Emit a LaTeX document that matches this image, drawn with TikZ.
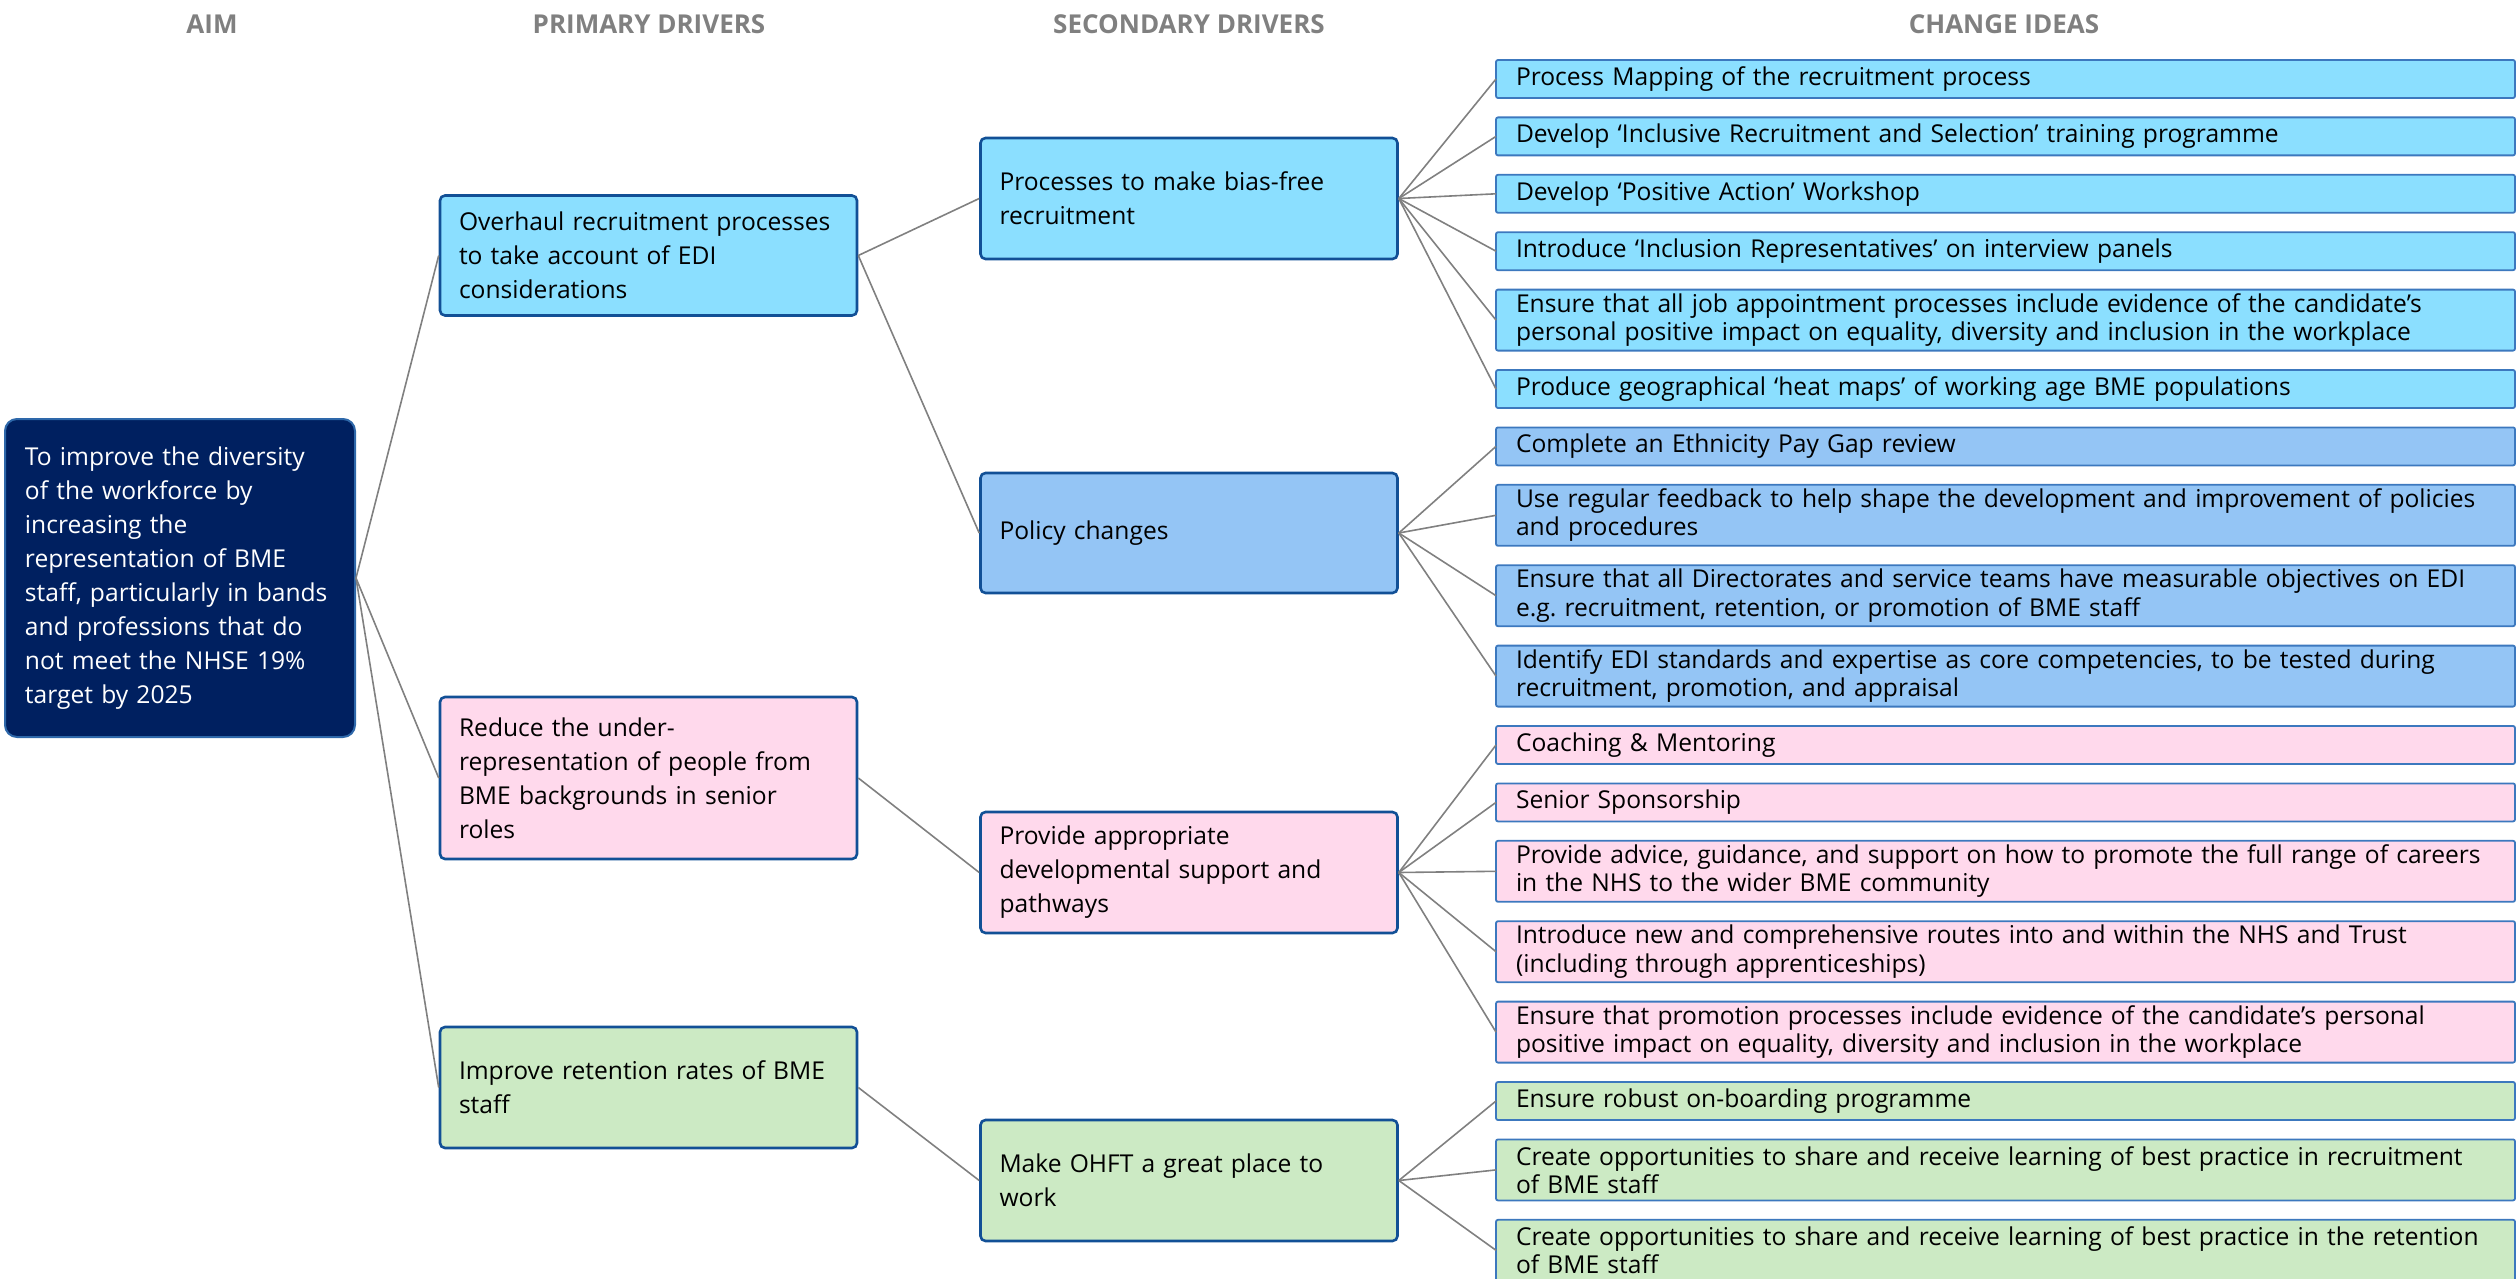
\documentclass[tikz,border=0pt]{standalone}
\usepackage{fontspec}
\setmainfont{Open Sans}
\usepackage{tikz}
\usetikzlibrary{positioning}
\frenchspacing
\definecolor{ddnavy}{RGB}{0,32,96}
\definecolor{ddnavyline}{RGB}{46,104,170}
\definecolor{ddcyan}{RGB}{139,223,255}
\definecolor{ddblue}{RGB}{148,197,245}
\definecolor{ddpink}{RGB}{255,217,236}
\definecolor{ddgreen}{RGB}{204,234,196}
\definecolor{ddedge}{RGB}{18,80,150}
\definecolor{ddideaedge}{RGB}{60,120,190}
\definecolor{ddgrey}{RGB}{128,128,128}
\tikzstyle{link} = [line width=0.8pt,color=ddgrey]
\tikzstyle{heading} = [font=\fontsize{13}{15}\selectfont\bfseries, text=ddgrey]
\tikzstyle{aimbox} = [rectangle, rounded corners=6pt, minimum width=175pt, minimum height=159pt, text width=155pt, inner xsep=10pt, align=left, draw=ddnavyline, fill=ddnavy, text=white, line width=1pt, font=\fontsize{12.3}{17}\selectfont]
\tikzstyle{driverbox} = [rectangle, rounded corners=2.5pt, minimum width=208.5pt, minimum height=60.5pt, text width=189.5pt, inner xsep=9.5pt, align=left, draw=ddedge, line width=1.3pt, font=\fontsize{12.3}{17}\selectfont]
\tikzstyle{ideabox} = [rectangle, rounded corners=1pt, minimum width=509.5pt, minimum height=19pt, text width=489.5pt, inner xsep=10pt, inner ysep=1pt, outer sep=0pt, align=left, draw=ddideaedge, line width=0.9pt, font=\fontsize{12.3}{14.2}\selectfont]
\tikzstyle{ideatwo} = [ideabox, minimum height=30.5pt]

\begin{document}
\begin{tikzpicture}[x=0.5pt, y=-0.5pt, node distance=9.7pt]
\useasboundingbox (0,0) rectangle (2517,1279);

% Headings
\node[heading] (haim) at (212,24) {AIM};
\node[heading] (hprim) at (649,24) {PRIMARY DRIVERS};
\node[heading] (hsec) at (1189,24) {SECONDARY DRIVERS};
\node[heading] (hidea) at (2004,24) {CHANGE IDEAS};

% Aim
\node[aimbox] (aim) at (180,578) {To improve the diversity\\
of the workforce by\\
increasing the\\
representation of BME\\
staff, particularly in bands\\
and professions that do\\
not meet the NHSE 19\%\\
target by 2025};

% Primary drivers
\node[driverbox, fill=ddcyan, minimum height=60pt] (prim1) at (648.5,255.5) {Overhaul recruitment processes\\
to take account of EDI\\
considerations};
\node[driverbox, fill=ddpink, minimum height=81pt] (prim2) at (648.5,778) {Reduce the under-\\
representation of people from\\
BME backgrounds in senior\\
roles};
\node[driverbox, fill=ddgreen] (prim3) at (648.5,1087.5) {Improve retention rates of BME\\
staff};

% Secondary drivers
\node[driverbox, fill=ddcyan] (sec1) at (1189,198.5) {\mbox{Processes to make bias-free}\\
recruitment};
\node[driverbox, fill=ddblue, minimum height=60pt] (sec2) at (1189,533) {Policy changes};
\node[driverbox, fill=ddpink] (sec3) at (1189,872.5) {Provide appropriate\\
developmental support and\\
pathways};
\node[driverbox, fill=ddgreen] (sec4) at (1189,1180.5) {Make OHFT a great place to\\
work};

% Change ideas
\node[ideabox, fill=ddcyan, anchor=north west] (idea1) at (1496,60) {Process Mapping of the recruitment process};
\node[ideabox, fill=ddcyan, below=of idea1] (idea2) {Develop ‘Inclusive Recruitment and Selection’ training programme};
\node[ideabox, fill=ddcyan, below=of idea2] (idea3) {Develop ‘Positive Action’ Workshop};
\node[ideabox, fill=ddcyan, below=of idea3] (idea4) {Introduce ‘Inclusion Representatives’ on interview panels};
\node[ideatwo, fill=ddcyan, below=of idea4] (idea5) {Ensure that all job appointment processes include evidence of the candidate’s\\
personal positive impact on equality, diversity and inclusion in the workplace};
\node[ideabox, fill=ddcyan, below=of idea5] (idea6) {Produce geographical ‘heat maps’ of working age BME populations};
\node[ideabox, fill=ddblue, below=of idea6] (idea7) {Complete an Ethnicity Pay Gap review};
\node[ideatwo, fill=ddblue, below=of idea7] (idea8) {Use regular feedback to help shape the development and improvement of policies\\
and procedures};
\node[ideatwo, fill=ddblue, below=of idea8] (idea9) {Ensure that all Directorates and service teams have measurable objectives on EDI\\
e.g. recruitment, retention, or promotion of BME staff};
\node[ideatwo, fill=ddblue, below=of idea9] (idea10) {Identify EDI standards and expertise as core competencies, to be tested during\\
recruitment, promotion, and appraisal};
\node[ideabox, fill=ddpink, below=of idea10] (idea11) {Coaching \& Mentoring};
\node[ideabox, fill=ddpink, below=of idea11] (idea12) {Senior Sponsorship};
\node[ideatwo, fill=ddpink, below=of idea12] (idea13) {Provide advice, guidance, and support on how to promote the full range of careers\\
in the NHS to the wider BME community};
\node[ideatwo, fill=ddpink, below=of idea13] (idea14) {Introduce new and comprehensive routes into and within the NHS and Trust\\
(including through apprenticeships)};
\node[ideatwo, fill=ddpink, below=of idea14] (idea15) {Ensure that promotion processes include evidence of the candidate’s personal\\
positive impact on equality, diversity and inclusion in the workplace};
\node[ideabox, fill=ddgreen, below=of idea15] (idea16) {Ensure robust on-boarding programme};
\node[ideatwo, fill=ddgreen, below=of idea16] (idea17) {Create opportunities to share and receive learning of best practice in recruitment\\
of BME staff};
\node[ideatwo, fill=ddgreen, below=of idea17] (idea18) {Create opportunities to share and receive learning of best practice in the retention\\
of BME staff};

% Links
\foreach \p in {prim1,prim2,prim3}
  \draw[link] (aim.east) -- (\p.west);
\draw[link] (prim1.east) -- (sec1.west);
\draw[link] (prim1.east) -- (sec2.west);
\draw[link] (prim2.east) -- (sec3.west);
\draw[link] (prim3.east) -- (sec4.west);
\foreach \i in {1,...,6}
  \draw[link] (sec1.east) -- (idea\i.west);
\foreach \i in {7,...,10}
  \draw[link] (sec2.east) -- (idea\i.west);
\foreach \i in {11,...,15}
  \draw[link] (sec3.east) -- (idea\i.west);
\foreach \i in {16,17,18}
  \draw[link] (sec4.east) -- (idea\i.west);
\end{tikzpicture}
\end{document}
